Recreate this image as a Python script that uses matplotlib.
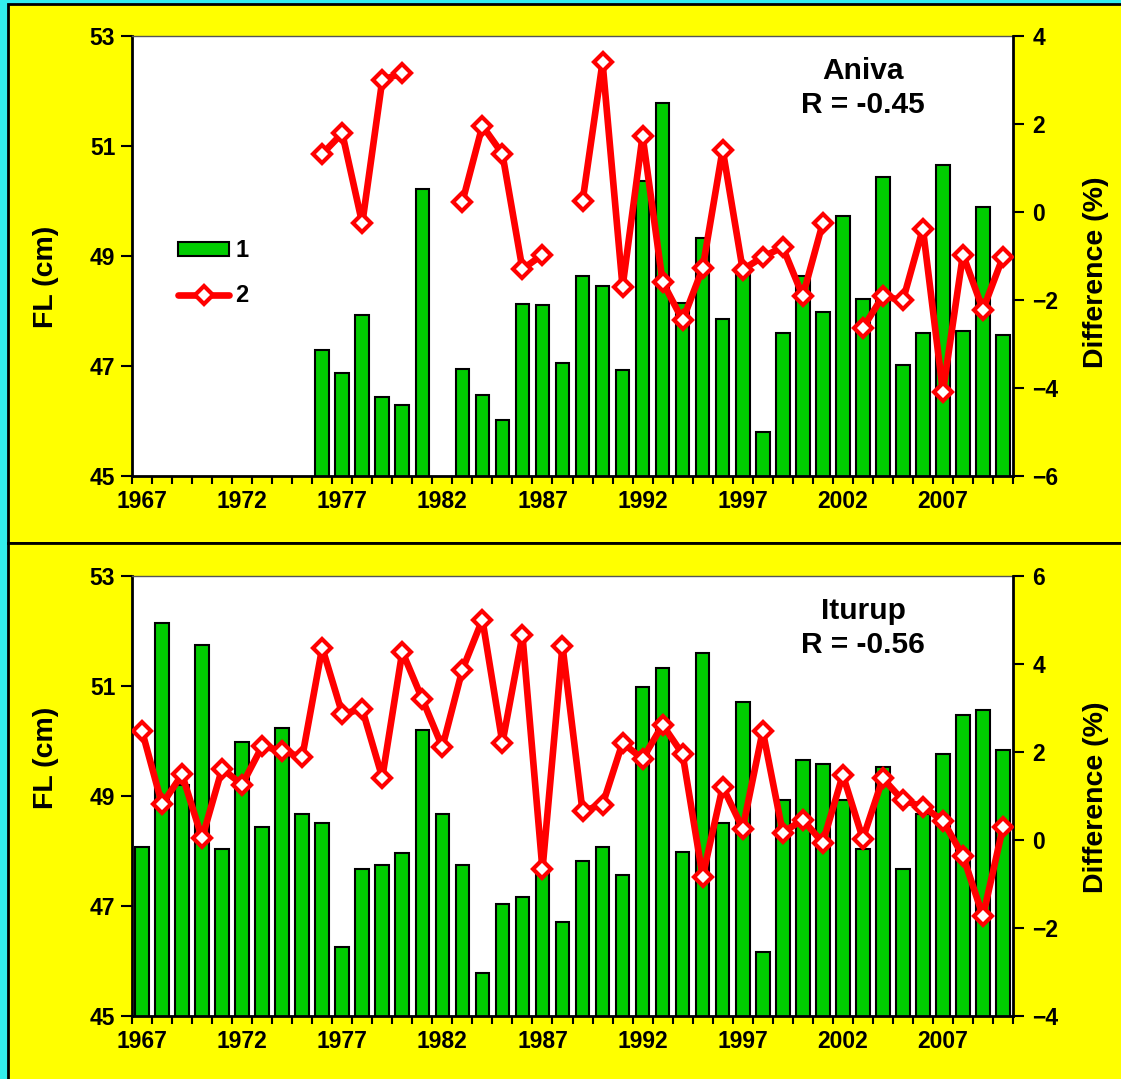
import numpy as np
import matplotlib
matplotlib.use("Agg")
import matplotlib.pyplot as plt
from matplotlib.patches import Rectangle
from matplotlib.lines import Line2D

plt.rcParams['font.family'] = ['Liberation Sans', 'DejaVu Sans']
plt.rcParams['font.weight'] = 'bold'

years = list(range(1967, 2011))
nan = np.nan

# Aniva (top)
aniva_fl = [nan, nan, nan, nan, nan, nan, nan, nan, nan,
            47.30, 46.88, 47.92, 46.44, 46.30, 50.22, nan, 46.95, 46.48, 46.01,
            48.13, 48.10, 47.05, 48.64, 48.46, 46.92, 50.37, 51.78, 48.14, 49.33,
            47.85, 48.75, 45.80, 47.60, 48.64, 47.99, 49.73, 48.21, 50.44, 47.02,
            47.60, 50.65, 47.63, 49.90, 47.57]
aniva_diff = [nan, nan, nan, nan, nan, nan, nan, nan, nan,
              1.32, 1.79, -0.26, 3.00, 3.16, nan, nan, 0.23, 1.96, 1.32,
              -1.30, -0.97, nan, 0.24, 3.40, -1.70, 1.73, -1.59, -2.46, -1.28,
              1.42, -1.31, -1.02, -0.80, -1.91, -0.25, nan, -2.64, -1.91, -2.01,
              -0.38, -4.08, -0.97, -2.22, -1.02]

# Iturup (bottom)
iturup_fl = [48.07, 52.15, 49.20, 51.75, 48.04, 49.98, 48.43, 50.23, 48.68,
             48.51, 46.26, 47.67, 47.75, 47.96, 50.20, 48.68, 47.75, 45.79, 47.03,
             47.16, 47.70, 46.71, 47.82, 48.07, 47.57, 50.99, 51.32, 47.99, 51.60,
             48.51, 50.71, 46.16, 48.93, 49.66, 49.58, 48.93, 48.04, 49.52, 47.67,
             48.68, 49.76, 50.48, 50.56, 49.84]
iturup_diff = [2.48, 0.81, 1.49, 0.04, 1.62, 1.26, 2.13, 2.03, 1.88,
               4.37, 2.87, 2.97, 1.42, 4.28, 3.20, 2.11, 3.87, 5.01, 2.21,
               4.65, -0.67, 4.41, 0.66, 0.80, 2.21, 1.84, 2.62, 1.95, -0.83,
               1.21, 0.26, 2.48, 0.17, 0.46, -0.06, 1.48, 0.03, 1.40, 0.90,
               0.76, 0.44, -0.36, -1.73, 0.29]

xtick_labels = [1967, 1972, 1977, 1982, 1987, 1992, 1997, 2002, 2007]
left_ticks = [45, 47, 49, 51, 53]
top_right_ticks = [-6, -4, -2, 0, 2, 4]
bot_right_ticks = [-4, -2, 0, 2, 4, 6]

W, H = 1121, 1079
fig = plt.figure(figsize=(W / 100, H / 100), dpi=100)
fig.patch.set_facecolor('#33EEEE')

# yellow panels
for (y0, y1) in [(4, 543), (543, 1085)]:
    fig.patches.append(Rectangle((8 / W, 1 - y1 / H), (W + 10 - 8) / W, (y1 - y0) / H,
                                 transform=fig.transFigure, facecolor='#FFFF00',
                                 edgecolor='black', linewidth=2, zorder=-10))

GREEN = '#00CC00'
RED = '#FF0000'
TICKFS = 16.5


def make_panel(top_px, fl, diff, rticks, name, r_text, ylab_y, rlab_y, legend=False):
    left_px, right_px = 132, 1013
    bot_px = top_px + 440
    ax = fig.add_axes([left_px / W, 1 - bot_px / H, (right_px - left_px) / W, 440 / H])
    ax.set_zorder(1)
    ax.set_facecolor('white')
    ax.bar(years, fl, width=0.68, color=GREEN, edgecolor='black', linewidth=1.5, zorder=2)
    ax.set_xlim(1966.5, 2010.5)
    ax.set_ylim(45, 53)
    ax.set_yticks(left_ticks)
    ax.set_xticks(xtick_labels)
    ax.set_xticklabels([str(v) for v in xtick_labels])
    ax.set_xticks(np.arange(1966.5, 2011.0, 1.0), minor=True)
    ax.tick_params(axis='x', which='major', length=0, pad=10, labelsize=TICKFS)
    ax.tick_params(axis='x', which='minor', length=6, width=1.5, direction='out')
    ax.tick_params(axis='y', which='major', length=8, width=1.5, direction='out',
                   labelsize=TICKFS, pad=4)
    for lab in ax.get_xticklabels() + ax.get_yticklabels():
        lab.set_fontweight('bold')
    ax.spines['left'].set_linewidth(2)
    ax.spines['bottom'].set_linewidth(2)
    ax.spines['top'].set_linewidth(1)
    ax.spines['top'].set_color('#555555')
    ax.spines['right'].set_visible(False)

    ax2 = ax.twinx()
    ax2.set_zorder(2)
    ax2.patch.set_visible(False)
    ax2.plot(years, diff, color=RED, linewidth=4.8, marker='D', markersize=9.5,
             markerfacecolor='white', markeredgecolor=RED, markeredgewidth=3.0,
             solid_joinstyle='round', solid_capstyle='round', zorder=3)
    ax2.set_ylim(rticks[0], rticks[-1])
    ax2.set_yticks(rticks)
    ax2.tick_params(axis='y', length=8, width=1.5, direction='out', labelsize=TICKFS, pad=6)
    for lab in ax2.get_yticklabels():
        lab.set_fontweight('bold')
    ax2.spines['right'].set_linewidth(2)
    ax2.spines['top'].set_visible(False)
    ax2.spines['left'].set_visible(False)
    ax2.spines['bottom'].set_visible(False)

    fig.text(46 / W, 1 - ylab_y / H, 'FL (cm)', rotation=90, ha='center', va='center',
             fontsize=20.5, fontweight='bold')
    fig.text(1096 / W, 1 - rlab_y / H, 'Difference (%)', rotation=90, ha='center',
             va='center', fontsize=20.5, fontweight='bold')
    fig.text(863 / W, 1 - (top_px + 35) / H, name, ha='center', va='center',
             fontsize=21.5, fontweight='bold', zorder=10)
    fig.text(863 / W, 1 - (top_px + 69) / H, r_text, ha='center', va='center',
             fontsize=21.5, fontweight='bold', zorder=10)

    if legend:
        h1 = Rectangle((0, 0), 1, 1, facecolor=GREEN, edgecolor='black', linewidth=1.5)
        h2 = Line2D([], [], color=RED, linewidth=4.8, marker='D', markersize=9.5,
                    markerfacecolor='white', markeredgecolor=RED, markeredgewidth=3.0,
                    solid_capstyle='round')
        leg = ax2.legend([h1, h2], ['1', '2'], loc='upper left',
                         bbox_to_anchor=(0.042, 0.56), frameon=False, fontsize=17,
                         handlelength=2.15, handleheight=0.55, handletextpad=0.25,
                         labelspacing=0.95, borderaxespad=0)
        for t in leg.get_texts():
            t.set_fontweight('bold')
    return ax, ax2


make_panel(36, aniva_fl, aniva_diff, top_right_ticks, 'Aniva', 'R = -0.45', 277, 272, legend=True)
make_panel(576, iturup_fl, iturup_diff, bot_right_ticks, 'Iturup', 'R = -0.56', 758, 797)

fig.savefig('out.png', dpi=100, facecolor=fig.get_facecolor())
